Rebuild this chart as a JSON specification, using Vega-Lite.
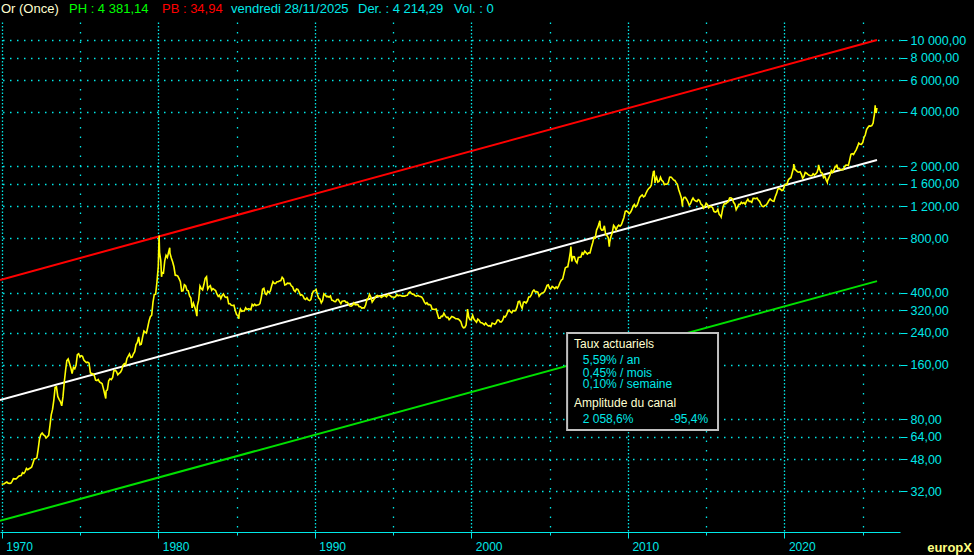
{
  "$schema": "https://vega.github.io/schema/vega-lite/v6.json",
  "width": 900,
  "height": 510,
  "autosize": {"type": "none"},
  "padding": {"left": 0, "top": 22, "right": 74, "bottom": 23},
  "background": "#000000",
  "config": {
    "view": {"stroke": null},
    "locale": {"number": {"decimal": ",", "thousands": " ", "grouping": [3], "currency": ["", " €"]}}
  },
  "encoding": {
    "x": {
      "field": "d", "type": "temporal",
      "scale": {"domain": [{"year": 1969, "month": 11, "date": 22, "utc": true}, {"year": 2027, "month": 5, "date": 21, "utc": true}]},
      "axis": {
        "title": null,
        "values": [{"year": 1970, "utc": true}, {"year": 1975, "utc": true}, {"year": 1980, "utc": true}, {"year": 1985, "utc": true}, {"year": 1990, "utc": true}, {"year": 1995, "utc": true}, {"year": 2000, "utc": true}, {"year": 2005, "utc": true}, {"year": 2010, "utc": true}, {"year": 2015, "utc": true}, {"year": 2020, "utc": true}, {"year": 2025, "utc": true}],
        "labelExpr": "utcyear(datum.value) % 10 == 0 ? '' + utcyear(datum.value) : ''",
        "domainColor": "#00e8e8", "domainWidth": 1.2,
        "tickColor": "#00e8e8",
        "tickSize": {"condition": {"test": "utcyear(datum.value) % 10 == 0", "value": 6}, "value": 3},
        "labelAlign": "left", "labelBaseline": "top", "labelPadding": 3, "labelOffset": 4,
        "labelColor": "#00e8e8", "labelFont": "Liberation Sans", "labelFontSize": 12,
        "labelFlush": false, "labelOverlap": false, "labelBound": false,
        "grid": true, "gridColor": "#00e8e8", "gridWidth": 1.3,
        "gridDash": {"condition": {"test": "utcyear(datum.value) % 10 == 0", "value": [1.5, 2]}, "value": [1.5, 8]}
      }
    },
    "y": {
      "field": "p", "type": "quantitative",
      "scale": {"type": "log", "domain": [19, 12580], "nice": false},
      "axis": {
        "title": null, "orient": "right",
        "values": [32, 48, 64, 80, 160, 240, 320, 400, 800, 1200, 1600, 2000, 4000, 6000, 8000, 10000],
        "format": ",.2f",
        "domain": false, "tickSize": 7, "tickColor": "#00e8e8",
        "labelColor": "#00e8e8", "labelFont": "Liberation Sans", "labelFontSize": 12.5, "labelPadding": 3,
        "labelFlush": false, "labelOverlap": false, "labelBound": false,
        "grid": true, "gridColor": "#00e8e8", "gridWidth": 1.5, "gridDash": [1.5, 5.5]
      }
    }
  },
  "layer": [
    {
      "data": {"values": [
        {"d": "1969-11-22", "p": 471, "c": "haut"}, {"d": "2025-12-01", "p": 10000, "c": "haut"},
        {"d": "1969-11-22", "p": 102, "c": "milieu"}, {"d": "2025-12-01", "p": 2169, "c": "milieu"},
        {"d": "1969-11-22", "p": 21.9, "c": "bas"}, {"d": "2025-12-01", "p": 464, "c": "bas"}
      ]},
      "mark": {"type": "line", "strokeWidth": 2},
      "encoding": {
        "detail": {"field": "c"},
        "color": {"field": "c", "type": "nominal", "scale": {"domain": ["haut", "milieu", "bas"], "range": ["#ff0000", "#ffffff", "#00e000"]}, "legend": null}
      }
    },
    {
      "data": {"values": [
{"d":"1970-01","p":34.9},{"d":"1970-02","p":35.0},{"d":"1970-03","p":35.1},{"d":"1970-04","p":35.6},{"d":"1970-05","p":35.9},{"d":"1970-06","p":35.4},{"d":"1970-07","p":35.3},{"d":"1970-08","p":35.4},{"d":"1970-09","p":36.2},{"d":"1970-10","p":37.5},{"d":"1970-11","p":37.4},{"d":"1970-12","p":37.4},
{"d":"1971-01","p":37.9},{"d":"1971-02","p":38.7},{"d":"1971-03","p":38.9},{"d":"1971-04","p":39.0},{"d":"1971-05","p":40.5},{"d":"1971-06","p":40.1},{"d":"1971-07","p":41.0},{"d":"1971-08","p":42.7},{"d":"1971-09","p":42.0},{"d":"1971-10","p":42.5},{"d":"1971-11","p":42.9},{"d":"1971-12","p":43.5},
{"d":"1972-01","p":45.8},{"d":"1972-02","p":48.3},{"d":"1972-03","p":48.3},{"d":"1972-04","p":49.0},{"d":"1972-05","p":54.6},{"d":"1972-06","p":62.1},{"d":"1972-07","p":65.7},{"d":"1972-08","p":67.0},{"d":"1972-09","p":65.5},{"d":"1972-10","p":64.9},{"d":"1972-11","p":62.9},{"d":"1972-12","p":63.9},
{"d":"1973-01","p":65.1},{"d":"1973-02","p":74.2},{"d":"1973-03","p":84.4},{"d":"1973-04","p":90.5},{"d":"1973-05","p":102.0},{"d":"1973-06","p":120.1},{"d":"1973-07","p":120.8},{"d":"1973-08","p":106.8},{"d":"1973-09","p":103.0},{"d":"1973-10","p":100.1},{"d":"1973-11","p":94.8},{"d":"1973-12","p":106.5},
{"d":"1974-01","p":129.2},{"d":"1974-02","p":150.2},{"d":"1974-03","p":168.4},{"d":"1974-04","p":172.2},{"d":"1974-05","p":163.1},{"d":"1974-06","p":154.1},{"d":"1974-07","p":143.0},{"d":"1974-08","p":154.6},{"d":"1974-09","p":151.8},{"d":"1974-10","p":158.8},{"d":"1974-11","p":181.7},{"d":"1974-12","p":183.8},
{"d":"1975-01","p":176.3},{"d":"1975-02","p":179.6},{"d":"1975-03","p":178.2},{"d":"1975-04","p":169.9},{"d":"1975-05","p":167.0},{"d":"1975-06","p":164.3},{"d":"1975-07","p":165.2},{"d":"1975-08","p":163.1},{"d":"1975-09","p":144.4},{"d":"1975-10","p":142.8},{"d":"1975-11","p":142.4},{"d":"1975-12","p":139.3},
{"d":"1976-01","p":131.5},{"d":"1976-02","p":130.8},{"d":"1976-03","p":132.6},{"d":"1976-04","p":128.4},{"d":"1976-05","p":127.1},{"d":"1976-06","p":125.6},{"d":"1976-07","p":118.0},{"d":"1976-08","p":109.9},{"d":"1976-08-25","p":104},{"d":"1976-09","p":114.4},{"d":"1976-10","p":116.2},{"d":"1976-11","p":130.5},{"d":"1976-12","p":133.8},
{"d":"1977-01","p":132.3},{"d":"1977-02","p":136.1},{"d":"1977-03","p":148.2},{"d":"1977-04","p":149.3},{"d":"1977-05","p":146.7},{"d":"1977-06","p":140.8},{"d":"1977-07","p":143.3},{"d":"1977-08","p":145.0},{"d":"1977-09","p":149.6},{"d":"1977-10","p":158.6},{"d":"1977-11","p":162.4},{"d":"1977-12","p":160.4},
{"d":"1978-01","p":173.2},{"d":"1978-02","p":178.7},{"d":"1978-03","p":183.7},{"d":"1978-04","p":175.5},{"d":"1978-05","p":176.4},{"d":"1978-06","p":183.9},{"d":"1978-07","p":188.8},{"d":"1978-08","p":206.6},{"d":"1978-09","p":212.6},{"d":"1978-10","p":227.9},{"d":"1978-11","p":206.2},{"d":"1978-12","p":207.8},
{"d":"1979-01","p":227.3},{"d":"1979-02","p":245.7},{"d":"1979-03","p":242.1},{"d":"1979-04","p":239.2},{"d":"1979-05","p":257.8},{"d":"1979-06","p":279.6},{"d":"1979-07","p":294.7},{"d":"1979-08","p":300.8},{"d":"1979-09","p":355.1},{"d":"1979-10","p":391.7},{"d":"1979-11","p":392.5},{"d":"1979-12","p":455.1},
{"d":"1980-01-02","p":560},{"d":"1980-01-21","p":830},{"d":"1980-02","p":670},{"d":"1980-03","p":600},{"d":"1980-03-18","p":490},{"d":"1980-04","p":517},{"d":"1980-05","p":514},{"d":"1980-06","p":600},{"d":"1980-07","p":644},{"d":"1980-08","p":627},{"d":"1980-09","p":674},{"d":"1980-09-25","p":710},{"d":"1980-10","p":661},{"d":"1980-11","p":623},{"d":"1980-12","p":594},
{"d":"1981-01","p":557},{"d":"1981-02","p":500},{"d":"1981-03","p":499},{"d":"1981-04","p":495},{"d":"1981-05","p":479},{"d":"1981-06","p":461},{"d":"1981-07","p":409},{"d":"1981-08","p":410},{"d":"1981-09","p":443},{"d":"1981-10","p":437},{"d":"1981-11","p":413},{"d":"1981-12","p":410},
{"d":"1982-01","p":384},{"d":"1982-02","p":374},{"d":"1982-03","p":330},{"d":"1982-04","p":350},{"d":"1982-05","p":334},{"d":"1982-06","p":315},{"d":"1982-06-21","p":297},{"d":"1982-07","p":339},{"d":"1982-08","p":364},{"d":"1982-09","p":436},{"d":"1982-10","p":422},{"d":"1982-11","p":415},{"d":"1982-12","p":444},
{"d":"1983-01","p":481},{"d":"1983-02","p":491},{"d":"1983-03","p":420},{"d":"1983-04","p":432},{"d":"1983-05","p":438},{"d":"1983-06","p":413},{"d":"1983-07","p":422},{"d":"1983-08","p":416},{"d":"1983-09","p":411},{"d":"1983-10","p":394},{"d":"1983-11","p":382},{"d":"1983-12","p":388},
{"d":"1984-01","p":371},{"d":"1984-02","p":387},{"d":"1984-03","p":394},{"d":"1984-04","p":381},{"d":"1984-05","p":377},{"d":"1984-06","p":378},{"d":"1984-07","p":348},{"d":"1984-08","p":348},{"d":"1984-09","p":341},{"d":"1984-10","p":340},{"d":"1984-11","p":341},{"d":"1984-12","p":320},
{"d":"1985-01","p":303},{"d":"1985-02","p":299},{"d":"1985-02-25","p":287},{"d":"1985-03","p":304},{"d":"1985-04","p":325},{"d":"1985-05","p":316},{"d":"1985-06","p":317},{"d":"1985-07","p":317},{"d":"1985-08","p":330},{"d":"1985-09","p":323},{"d":"1985-10","p":326},{"d":"1985-11","p":325},{"d":"1985-12","p":322},
{"d":"1986-01","p":345},{"d":"1986-02","p":339},{"d":"1986-03","p":346},{"d":"1986-04","p":340},{"d":"1986-05","p":342},{"d":"1986-06","p":343},{"d":"1986-07","p":348},{"d":"1986-08","p":376},{"d":"1986-09","p":418},{"d":"1986-10","p":423},{"d":"1986-11","p":395},{"d":"1986-12","p":391},
{"d":"1987-01","p":408},{"d":"1987-02","p":401},{"d":"1987-03","p":409},{"d":"1987-04","p":438},{"d":"1987-05","p":460},{"d":"1987-06","p":450},{"d":"1987-07","p":450},{"d":"1987-08","p":460},{"d":"1987-09","p":460},{"d":"1987-10","p":465},{"d":"1987-11","p":467},{"d":"1987-12","p":487},
{"d":"1988-01","p":477},{"d":"1988-02","p":442},{"d":"1988-03","p":444},{"d":"1988-04","p":452},{"d":"1988-05","p":451},{"d":"1988-06","p":451},{"d":"1988-07","p":437},{"d":"1988-08","p":432},{"d":"1988-09","p":413},{"d":"1988-10","p":406},{"d":"1988-11","p":420},{"d":"1988-12","p":418},
{"d":"1989-01","p":404},{"d":"1989-02","p":388},{"d":"1989-03","p":390},{"d":"1989-04","p":384},{"d":"1989-05","p":371},{"d":"1989-06","p":367},{"d":"1989-07","p":375},{"d":"1989-08","p":365},{"d":"1989-09","p":362},{"d":"1989-10","p":367},{"d":"1989-11","p":394},{"d":"1989-12","p":409},
{"d":"1990-01","p":410},{"d":"1990-02","p":417},{"d":"1990-03","p":393},{"d":"1990-04","p":374},{"d":"1990-05","p":369},{"d":"1990-06","p":352},{"d":"1990-07","p":362},{"d":"1990-08","p":395},{"d":"1990-09","p":389},{"d":"1990-10","p":381},{"d":"1990-11","p":382},{"d":"1990-12","p":378},
{"d":"1991-01","p":384},{"d":"1991-02","p":364},{"d":"1991-03","p":363},{"d":"1991-04","p":358},{"d":"1991-05","p":357},{"d":"1991-06","p":367},{"d":"1991-07","p":368},{"d":"1991-08","p":357},{"d":"1991-09","p":348},{"d":"1991-10","p":359},{"d":"1991-11","p":360},{"d":"1991-12","p":361},
{"d":"1992-01","p":354},{"d":"1992-02","p":354},{"d":"1992-03","p":345},{"d":"1992-04","p":338},{"d":"1992-05","p":337},{"d":"1992-06","p":341},{"d":"1992-07","p":352},{"d":"1992-08","p":343},{"d":"1992-09","p":345},{"d":"1992-10","p":344},{"d":"1992-11","p":335},{"d":"1992-12","p":335},
{"d":"1993-01","p":329},{"d":"1993-02","p":330},{"d":"1993-03","p":330},{"d":"1993-04","p":342},{"d":"1993-05","p":367},{"d":"1993-06","p":372},{"d":"1993-07","p":392},{"d":"1993-08","p":379},{"d":"1993-09","p":355},{"d":"1993-10","p":364},{"d":"1993-11","p":373},{"d":"1993-12","p":383},
{"d":"1994-01","p":387},{"d":"1994-02","p":382},{"d":"1994-03","p":384},{"d":"1994-04","p":377},{"d":"1994-05","p":381},{"d":"1994-06","p":386},{"d":"1994-07","p":385},{"d":"1994-08","p":380},{"d":"1994-09","p":391},{"d":"1994-10","p":389},{"d":"1994-11","p":384},{"d":"1994-12","p":379},
{"d":"1995-01","p":379},{"d":"1995-02","p":377},{"d":"1995-03","p":381},{"d":"1995-04","p":391},{"d":"1995-05","p":385},{"d":"1995-06","p":387},{"d":"1995-07","p":386},{"d":"1995-08","p":383},{"d":"1995-09","p":383},{"d":"1995-10","p":383},{"d":"1995-11","p":386},{"d":"1995-12","p":387},
{"d":"1996-01","p":400},{"d":"1996-02","p":405},{"d":"1996-03","p":397},{"d":"1996-04","p":393},{"d":"1996-05","p":392},{"d":"1996-06","p":385},{"d":"1996-07","p":383},{"d":"1996-08","p":387},{"d":"1996-09","p":383},{"d":"1996-10","p":381},{"d":"1996-11","p":378},{"d":"1996-12","p":369},
{"d":"1997-01","p":355},{"d":"1997-02","p":347},{"d":"1997-03","p":352},{"d":"1997-04","p":344},{"d":"1997-05","p":344},{"d":"1997-06","p":341},{"d":"1997-07","p":324},{"d":"1997-08","p":324},{"d":"1997-09","p":323},{"d":"1997-10","p":325},{"d":"1997-11","p":306},{"d":"1997-12","p":289},
{"d":"1998-01","p":289},{"d":"1998-02","p":297},{"d":"1998-03","p":296},{"d":"1998-04","p":308},{"d":"1998-05","p":299},{"d":"1998-06","p":292},{"d":"1998-07","p":293},{"d":"1998-08","p":284},{"d":"1998-09","p":289},{"d":"1998-10","p":296},{"d":"1998-11","p":294},{"d":"1998-12","p":291},
{"d":"1999-01","p":287},{"d":"1999-02","p":287},{"d":"1999-03","p":286},{"d":"1999-04","p":282},{"d":"1999-05","p":277},{"d":"1999-06","p":262},{"d":"1999-07","p":256},{"d":"1999-08","p":257},{"d":"1999-09","p":265},{"d":"1999-10-05","p":325},{"d":"1999-10","p":311},{"d":"1999-11","p":293},{"d":"1999-12","p":284},
{"d":"2000-01","p":284},{"d":"2000-02","p":300},{"d":"2000-03","p":286},{"d":"2000-04","p":280},{"d":"2000-05","p":275},{"d":"2000-06","p":286},{"d":"2000-07","p":282},{"d":"2000-08","p":274},{"d":"2000-09","p":273},{"d":"2000-10","p":270},{"d":"2000-11","p":266},{"d":"2000-12","p":272},
{"d":"2001-01","p":266},{"d":"2001-02","p":262},{"d":"2001-03","p":263},{"d":"2001-04","p":260},{"d":"2001-05","p":272},{"d":"2001-06","p":270},{"d":"2001-07","p":268},{"d":"2001-08","p":273},{"d":"2001-09","p":283},{"d":"2001-10","p":283},{"d":"2001-11","p":276},{"d":"2001-12","p":276},
{"d":"2002-01","p":282},{"d":"2002-02","p":296},{"d":"2002-03","p":294},{"d":"2002-04","p":302},{"d":"2002-05","p":314},{"d":"2002-06","p":321},{"d":"2002-07","p":314},{"d":"2002-08","p":310},{"d":"2002-09","p":319},{"d":"2002-10","p":317},{"d":"2002-11","p":319},{"d":"2002-12","p":333},
{"d":"2003-01","p":357},{"d":"2003-02","p":359},{"d":"2003-03","p":340},{"d":"2003-04","p":328},{"d":"2003-05","p":355},{"d":"2003-06","p":356},{"d":"2003-07","p":351},{"d":"2003-08","p":360},{"d":"2003-09","p":379},{"d":"2003-10","p":379},{"d":"2003-11","p":389},{"d":"2003-12","p":407},
{"d":"2004-01","p":414},{"d":"2004-02","p":405},{"d":"2004-03","p":406},{"d":"2004-04","p":403},{"d":"2004-05","p":383},{"d":"2004-06","p":392},{"d":"2004-07","p":398},{"d":"2004-08","p":400},{"d":"2004-09","p":405},{"d":"2004-10","p":420},{"d":"2004-11","p":439},{"d":"2004-12","p":442},
{"d":"2005-01","p":424},{"d":"2005-02","p":423},{"d":"2005-03","p":434},{"d":"2005-04","p":429},{"d":"2005-05","p":422},{"d":"2005-06","p":431},{"d":"2005-07","p":424},{"d":"2005-08","p":437},{"d":"2005-09","p":456},{"d":"2005-10","p":470},{"d":"2005-11","p":476},{"d":"2005-12","p":510},
{"d":"2006-01","p":549},{"d":"2006-02","p":555},{"d":"2006-03","p":557},{"d":"2006-04","p":610},{"d":"2006-05","p":676},{"d":"2006-05-12","p":720},{"d":"2006-06","p":596},{"d":"2006-07","p":633},{"d":"2006-08","p":632},{"d":"2006-09","p":598},{"d":"2006-10","p":585},{"d":"2006-11","p":627},{"d":"2006-12","p":629},
{"d":"2007-01","p":631},{"d":"2007-02","p":665},{"d":"2007-03","p":655},{"d":"2007-04","p":679},{"d":"2007-05","p":667},{"d":"2007-06","p":655},{"d":"2007-07","p":665},{"d":"2007-08","p":665},{"d":"2007-09","p":712},{"d":"2007-10","p":754},{"d":"2007-11","p":806},{"d":"2007-12","p":803},
{"d":"2008-01","p":889},{"d":"2008-02","p":922},{"d":"2008-03","p":968},{"d":"2008-03-17","p":1000},{"d":"2008-04","p":909},{"d":"2008-05","p":888},{"d":"2008-06","p":889},{"d":"2008-07","p":939},{"d":"2008-08","p":839},{"d":"2008-09","p":829},{"d":"2008-10","p":806},{"d":"2008-10-24","p":720},{"d":"2008-11","p":760},{"d":"2008-12","p":816},
{"d":"2009-01","p":858},{"d":"2009-02","p":943},{"d":"2009-03","p":924},{"d":"2009-04","p":890},{"d":"2009-05","p":928},{"d":"2009-06","p":946},{"d":"2009-07","p":934},{"d":"2009-08","p":949},{"d":"2009-09","p":996},{"d":"2009-10","p":1043},{"d":"2009-11","p":1127},{"d":"2009-12","p":1135},
{"d":"2010-01","p":1118},{"d":"2010-02","p":1095},{"d":"2010-03","p":1113},{"d":"2010-04","p":1149},{"d":"2010-05","p":1205},{"d":"2010-06","p":1232},{"d":"2010-07","p":1193},{"d":"2010-08","p":1215},{"d":"2010-09","p":1271},{"d":"2010-10","p":1343},{"d":"2010-11","p":1370},{"d":"2010-12","p":1391},
{"d":"2011-01","p":1356},{"d":"2011-02","p":1372},{"d":"2011-03","p":1424},{"d":"2011-04","p":1474},{"d":"2011-05","p":1510},{"d":"2011-06","p":1528},{"d":"2011-07","p":1573},{"d":"2011-08","p":1759},{"d":"2011-08-22","p":1880},{"d":"2011-09","p":1772},{"d":"2011-09-06","p":1895},{"d":"2011-09-26","p":1620},{"d":"2011-10","p":1666},{"d":"2011-11","p":1739},{"d":"2011-12","p":1640},
{"d":"2012-01","p":1656},{"d":"2012-02","p":1742},{"d":"2012-03","p":1673},{"d":"2012-04","p":1650},{"d":"2012-05","p":1585},{"d":"2012-06","p":1596},{"d":"2012-07","p":1594},{"d":"2012-08","p":1626},{"d":"2012-09","p":1744},{"d":"2012-10","p":1747},{"d":"2012-11","p":1721},{"d":"2012-12","p":1684},
{"d":"2013-01","p":1671},{"d":"2013-02","p":1627},{"d":"2013-03","p":1593},{"d":"2013-04","p":1487},{"d":"2013-05","p":1414},{"d":"2013-06","p":1343},{"d":"2013-06-28","p":1200},{"d":"2013-07","p":1286},{"d":"2013-08","p":1347},{"d":"2013-09","p":1349},{"d":"2013-10","p":1316},{"d":"2013-11","p":1275},{"d":"2013-12","p":1221},
{"d":"2014-01","p":1244},{"d":"2014-02","p":1300},{"d":"2014-03","p":1336},{"d":"2014-04","p":1299},{"d":"2014-05","p":1287},{"d":"2014-06","p":1279},{"d":"2014-07","p":1311},{"d":"2014-08","p":1296},{"d":"2014-09","p":1239},{"d":"2014-10","p":1222},{"d":"2014-11","p":1176},{"d":"2014-12","p":1201},
{"d":"2015-01","p":1251},{"d":"2015-02","p":1227},{"d":"2015-03","p":1179},{"d":"2015-04","p":1198},{"d":"2015-05","p":1199},{"d":"2015-06","p":1181},{"d":"2015-07","p":1128},{"d":"2015-08","p":1117},{"d":"2015-09","p":1125},{"d":"2015-10","p":1157},{"d":"2015-11","p":1086},{"d":"2015-12","p":1068},{"d":"2015-12-17","p":1050},
{"d":"2016-01","p":1097},{"d":"2016-02","p":1199},{"d":"2016-03","p":1246},{"d":"2016-04","p":1242},{"d":"2016-05","p":1260},{"d":"2016-06","p":1276},{"d":"2016-07","p":1337},{"d":"2016-08","p":1341},{"d":"2016-09","p":1326},{"d":"2016-10","p":1266},{"d":"2016-11","p":1236},{"d":"2016-12","p":1152},
{"d":"2017-01","p":1192},{"d":"2017-02","p":1234},{"d":"2017-03","p":1231},{"d":"2017-04","p":1267},{"d":"2017-05","p":1246},{"d":"2017-06","p":1260},{"d":"2017-07","p":1236},{"d":"2017-08","p":1283},{"d":"2017-09","p":1315},{"d":"2017-10","p":1280},{"d":"2017-11","p":1282},{"d":"2017-12","p":1265},
{"d":"2018-01","p":1331},{"d":"2018-02","p":1331},{"d":"2018-03","p":1325},{"d":"2018-04","p":1335},{"d":"2018-05","p":1303},{"d":"2018-06","p":1282},{"d":"2018-07","p":1238},{"d":"2018-08","p":1202},{"d":"2018-09","p":1199},{"d":"2018-10","p":1215},{"d":"2018-11","p":1221},{"d":"2018-12","p":1250},
{"d":"2019-01","p":1291},{"d":"2019-02","p":1320},{"d":"2019-03","p":1301},{"d":"2019-04","p":1286},{"d":"2019-05","p":1283},{"d":"2019-06","p":1359},{"d":"2019-07","p":1413},{"d":"2019-08","p":1500},{"d":"2019-09","p":1510},{"d":"2019-10","p":1495},{"d":"2019-11","p":1470},{"d":"2019-12","p":1480},
{"d":"2020-01","p":1560},{"d":"2020-02","p":1597},{"d":"2020-03","p":1591},{"d":"2020-04","p":1683},{"d":"2020-05","p":1715},{"d":"2020-06","p":1732},{"d":"2020-07","p":1846},{"d":"2020-08","p":1968},{"d":"2020-08-06","p":2060},{"d":"2020-09","p":1922},{"d":"2020-10","p":1900},{"d":"2020-11","p":1866},{"d":"2020-12","p":1858},
{"d":"2021-01","p":1867},{"d":"2021-02","p":1808},{"d":"2021-03","p":1718},{"d":"2021-04","p":1760},{"d":"2021-05","p":1850},{"d":"2021-06","p":1834},{"d":"2021-07","p":1807},{"d":"2021-08","p":1785},{"d":"2021-09","p":1775},{"d":"2021-10","p":1777},{"d":"2021-11","p":1821},{"d":"2021-12","p":1790},
{"d":"2022-01","p":1817},{"d":"2022-02","p":1856},{"d":"2022-03","p":1948},{"d":"2022-03-08","p":2040},{"d":"2022-04","p":1937},{"d":"2022-05","p":1848},{"d":"2022-06","p":1837},{"d":"2022-07","p":1733},{"d":"2022-08","p":1765},{"d":"2022-09","p":1681},{"d":"2022-09-28","p":1630},{"d":"2022-10","p":1664},{"d":"2022-11","p":1726},{"d":"2022-12","p":1798},
{"d":"2023-01","p":1898},{"d":"2023-02","p":1854},{"d":"2023-03","p":1912},{"d":"2023-04","p":2000},{"d":"2023-05","p":1992},{"d":"2023-05-04","p":2050},{"d":"2023-06","p":1943},{"d":"2023-07","p":1951},{"d":"2023-08","p":1918},{"d":"2023-09","p":1916},{"d":"2023-10","p":1916},{"d":"2023-11","p":1985},{"d":"2023-12","p":2030},
{"d":"2024-01","p":2034},{"d":"2024-02","p":2023},{"d":"2024-03","p":2159},{"d":"2024-04","p":2331},{"d":"2024-05","p":2351},{"d":"2024-06","p":2326},{"d":"2024-07","p":2398},{"d":"2024-08","p":2470},{"d":"2024-09","p":2571},{"d":"2024-10","p":2690},{"d":"2024-11","p":2650},{"d":"2024-12","p":2648},
{"d":"2025-01","p":2708},{"d":"2025-02","p":2895},{"d":"2025-03","p":2983},{"d":"2025-04","p":3194},{"d":"2025-05","p":3280},{"d":"2025-06","p":3350},{"d":"2025-07","p":3340},{"d":"2025-08","p":3365},{"d":"2025-09","p":3475},{"d":"2025-09-15","p":3680},{"d":"2025-10","p":3860},{"d":"2025-10-08","p":4040},{"d":"2025-10-20","p":4360},{"d":"2025-10-28","p":3950},{"d":"2025-11-10","p":4100},{"d":"2025-11-18","p":4060},{"d":"2025-11-28","p":4214}
      ]},
      "mark": {"type": "line", "color": "#ffff00", "strokeWidth": 1.6}
    },
    {
      "data": {"values": [{"d": "2006-02-13", "d2": "2015-10-05", "p": 239.6, "p2": 69.7}]},
      "mark": {"type": "rect", "fill": "#000000", "stroke": "#c0c0c0", "strokeWidth": 2},
      "encoding": {"x2": {"field": "d2"}, "y2": {"field": "p2"}}
    },
    {
      "data": {"values": [
        {"d": "1969-12-14", "p": 14845, "t": "Or (Once)", "k": "creme"},
        {"d": "1974-04-19", "p": 14845, "t": "PH : 4 381,14", "k": "vert"},
        {"d": "1980-03-28", "p": 14845, "t": "PB : 34,94", "k": "rouge"},
        {"d": "1984-08-25", "p": 14845, "t": "vendredi 28/11/2025", "k": "cyan"},
        {"d": "1992-10-05", "p": 14845, "t": "Der. : 4 214,29", "k": "cyan"},
        {"d": "1998-11-24", "p": 14845, "t": "Vol. : 0", "k": "cyan"}
      ]},
      "mark": {"type": "text", "align": "left", "baseline": "middle", "font": "Liberation Sans", "fontSize": 13},
      "encoding": {
        "text": {"field": "t"},
        "color": {"field": "k", "type": "nominal", "scale": {"domain": ["creme", "vert", "rouge", "cyan"], "range": ["#ffffd0", "#00ff00", "#ff0000", "#00e8e8"]}, "legend": null}
      }
    },
    {
      "data": {"values": [
        {"d": "2006-07-24", "p": 208.3, "t": "Taux actuariels", "k": "creme"},
        {"d": "2007-02-13", "p": 169.9, "t": "5,59% / an", "k": "cyan"},
        {"d": "2007-02-13", "p": 144.6, "t": "0,45% / mois", "k": "cyan"},
        {"d": "2007-02-13", "p": 124.7, "t": "0,10% / semaine", "k": "cyan"},
        {"d": "2006-07-24", "p": 98.6, "t": "Amplitude du canal", "k": "creme"},
        {"d": "2007-02-13", "p": 80.4, "t": "2 058,6%", "k": "cyan"},
        {"d": "2012-09-13", "p": 80.4, "t": "-95,4%", "k": "cyan"}
      ]},
      "mark": {"type": "text", "align": "left", "baseline": "middle", "font": "Liberation Sans", "fontSize": 12},
      "encoding": {
        "text": {"field": "t"},
        "color": {"field": "k", "type": "nominal", "scale": {"domain": ["creme", "cyan"], "range": ["#ffffd0", "#00e8e8"]}, "legend": null}
      }
    },
    {
      "data": {"values": [{"d": "2029-02-13", "p": 15.5, "t": "europX"}]},
      "mark": {"type": "text", "align": "left", "baseline": "middle", "font": "Liberation Sans", "fontSize": 13, "fontWeight": "bold", "color": "#ffff80"},
      "encoding": {"text": {"field": "t"}}
    }
  ],
  "resolve": {"scale": {"color": "independent"}}
}
